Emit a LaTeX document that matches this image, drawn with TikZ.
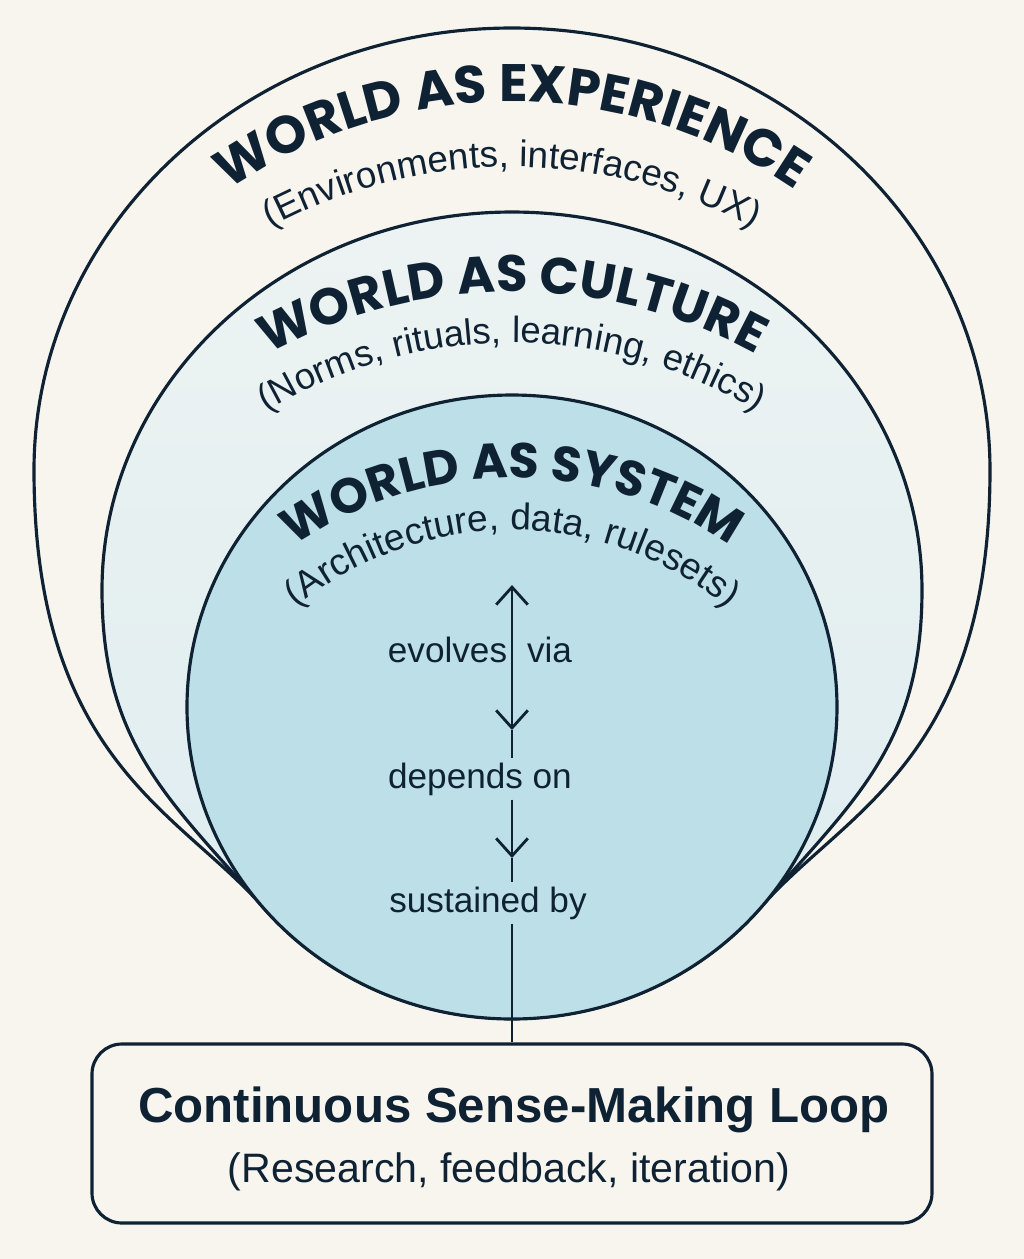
\documentclass[tikz,border=0pt]{standalone}
\usepackage{fontspec}
\setmainfont{Liberation Sans}
\newfontfamily\headfont{Poppins}
\usetikzlibrary{arrows.meta,calc,positioning,decorations.text}
\definecolor{ink}{HTML}{0F2233}
\definecolor{paper}{HTML}{F8F5EF}
\definecolor{culturetop}{HTML}{EDF3F2}
\definecolor{culture}{HTML}{DDECF0}
\definecolor{system}{HTML}{BDDFE7}

\begin{document}
\begin{tikzpicture}[x=0.1mm,y=0.1mm,
>={Straight Barb[length=5pt,width=9pt]},
ring/.style={draw=ink,line width=0.9pt},
flow/.style={draw=ink,line width=0.8pt},
thinflow/.style={draw=ink,line width=0.5pt},
lbl/.style={text=ink,inner sep=1pt,anchor=base,font=\fontsize{10}{12}\selectfont},
loopbox/.style={draw=ink,line width=0.9pt,fill=paper,rounded corners=3mm,minimum width=84mm,minimum height=17.9mm},
arch/.style={decorate,decoration={text along path,text align=center,text color=ink,text={#1}}}]
\fill[paper] (0,0) rectangle (1024,-1259);
\useasboundingbox (0,0) rectangle (1024,-1259);
\path[ring,fill=paper] (263,-907) .. controls (180,-812) and (34,-760) .. (34,-470)
  arc[start angle=180,end angle=0,x radius=478,y radius=442]
  .. controls (990,-760) and (844,-812) .. (761,-907)
  arc[start angle=-40,end angle=-140,x radius=325,y radius=312] -- cycle;
\path[ring,top color=culturetop,bottom color=culture] (263,-907) .. controls (170,-800) and (102,-745) .. (102,-590)
  arc[start angle=180,end angle=0,x radius=410,y radius=378]
  .. controls (922,-745) and (854,-800) .. (761,-907)
  arc[start angle=-40,end angle=-140,x radius=325,y radius=312] -- cycle;
\path[ring,fill=system] (512,-707) ellipse[x radius=325,y radius=312];
\path[arch={|\headfont\bfseries\fontsize{15}{18}\selectfont|WORLD AS EXPERIENCE}]
  ($(512,-602)+(150:500)$) arc[start angle=150,end angle=30,radius=500];
\path[arch={|\fontsize{10.5}{13}\selectfont|(Environments, interfaces, UX)}]
  ($(512,-675)+(150:508)$) arc[start angle=150,end angle=30,radius=508];
\path[arch={|\headfont\bfseries\fontsize{14.6}{18}\selectfont|WORLD AS CULTURE}]
  ($(512,-800)+(150:508)$) arc[start angle=150,end angle=30,radius=508];
\path[arch={|\fontsize{10.4}{13}\selectfont|(Norms, rituals, learning, ethics)}]
  ($(512,-817)+(150:474)$) arc[start angle=150,end angle=30,radius=474];
\path[arch={|\headfont\bfseries\fontsize{14}{17}\selectfont|WORLD AS SYSTEM}]
  ($(512,-861)+(155:383)$) arc[start angle=155,end angle=25,radius=383];
\path[arch={|\fontsize{10.6}{13}\selectfont|(Architecture, data, rulesets)}]
  ($(512,-868)+(160:338)$) arc[start angle=160,end angle=20,radius=338];
\coordinate (evtop) at (512,-585);
\coordinate (evbot) at (512,-730);
\coordinate (depbot) at (512,-858);
\node[lbl] (evolves) at (480,-662) {evolves\hspace{5.7pt}via};
\node[lbl] (depends) at (480,-788) {depends on};
\node[lbl] (sustained) at (488,-912) {sustained by};
\node[loopbox] (loop) at (512,-1133.5) {};
\node[text=ink,anchor=base,font=\fontsize{14}{17}\selectfont\bfseries] (looptitle) at (514,-1122) {Continuous Sense-Making Loop};
\node[text=ink,anchor=base,font=\fontsize{11.7}{14}\selectfont] (loopsub) at (509,-1182) {(Research, feedback, iteration)};
\draw[flow,<->] (evtop) -- (evbot);
\draw[thinflow] (evbot) -- (evbot |- depends.north);
\draw[flow,->] (evbot |- depends.south) -- (depbot);
\draw[thinflow] (depbot) -- (evbot |- sustained.north);
\draw[flow] (evbot |- sustained.south) -- (loop.north);
\end{tikzpicture}
\end{document}
